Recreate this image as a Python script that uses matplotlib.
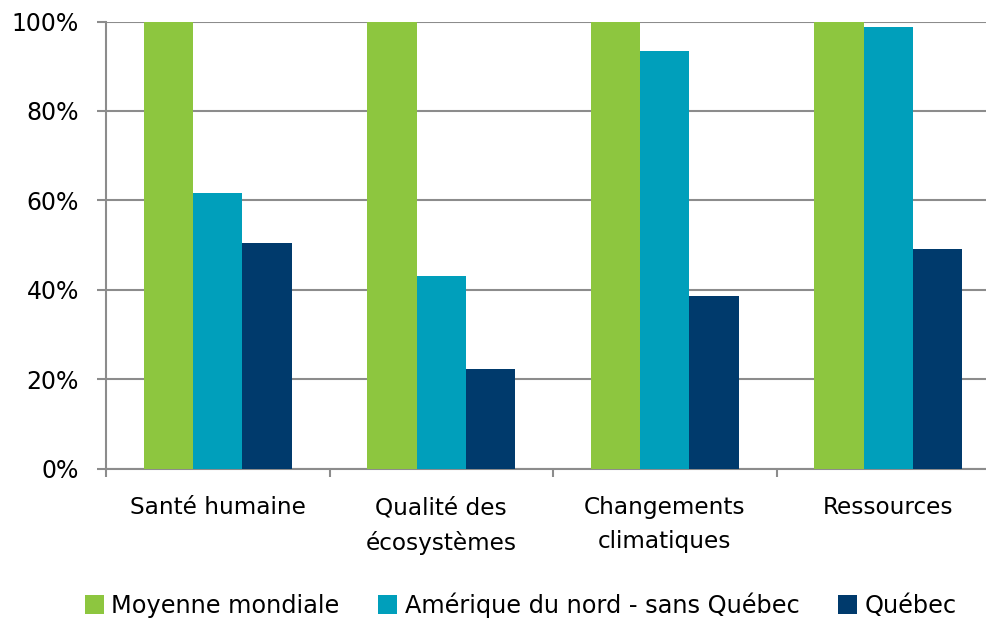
import matplotlib.pyplot as plt
import numpy as np

plt.rcParams['font.family'] = ['DejaVu Sans']

categories = ['Santé humaine', 'Qualité des\nécosystèmes', 'Changements\nclimatiques', 'Ressources']
series_names = ['Moyenne mondiale', 'Amérique du nord - sans Québec', 'Québec']
moyenne = [100, 100, 100, 100]
amerique = [61.6, 43.1, 93.4, 98.8]
quebec = [50.4, 22.2, 38.6, 49.0]
colors = ['#8DC63F', '#009FBB', '#003A6C']

fig = plt.figure(figsize=(9.86, 6.19), dpi=100)
# axes run a little past the right border, like the original
ax = fig.add_axes([106/986, 1 - 468.5/619, 894/986, 447/619])

x = np.arange(len(categories))
w = 0.22
for i, (vals, name, c) in enumerate(zip([moyenne, amerique, quebec], series_names, colors)):
    ax.bar(x + (i - 1) * w, vals, w, color=c, label=name, zorder=3)

ax.set_xlim(-0.5, 3.5)
ax.set_ylim(0, 100)
ax.set_yticks([0, 20, 40, 60, 80, 100])
ax.set_yticklabels(['0%', '20%', '40%', '60%', '80%', '100%'], fontsize=17)
ax.yaxis.grid(True, color='#8C8C8C', linewidth=1.5, zorder=0)
ax.tick_params(axis='y', length=6.5, color='#8C8C8C', width=1.5, pad=13)

ax.set_xticks(x)
ax.set_xticklabels(categories, fontsize=16.7, linespacing=1.6)
ax.set_xticks([-0.5, 0.5, 1.5, 2.5], minor=True)
ax.tick_params(axis='x', which='major', length=0, pad=20)
ax.tick_params(axis='x', which='minor', length=6, color='#8C8C8C', width=1.5)

for s in ['top', 'right']:
    ax.spines[s].set_visible(False)
for s in ['left', 'bottom']:
    ax.spines[s].set_color('#8C8C8C')
    ax.spines[s].set_linewidth(1.5)

fig.legend(loc='center', bbox_to_anchor=(0.528, 1 - 605/619), ncol=3, frameon=False,
           fontsize=17.3, handlelength=0.8, handleheight=0.8, handletextpad=0.3,
           columnspacing=1.6)

fig.savefig('out.png', dpi=100)
